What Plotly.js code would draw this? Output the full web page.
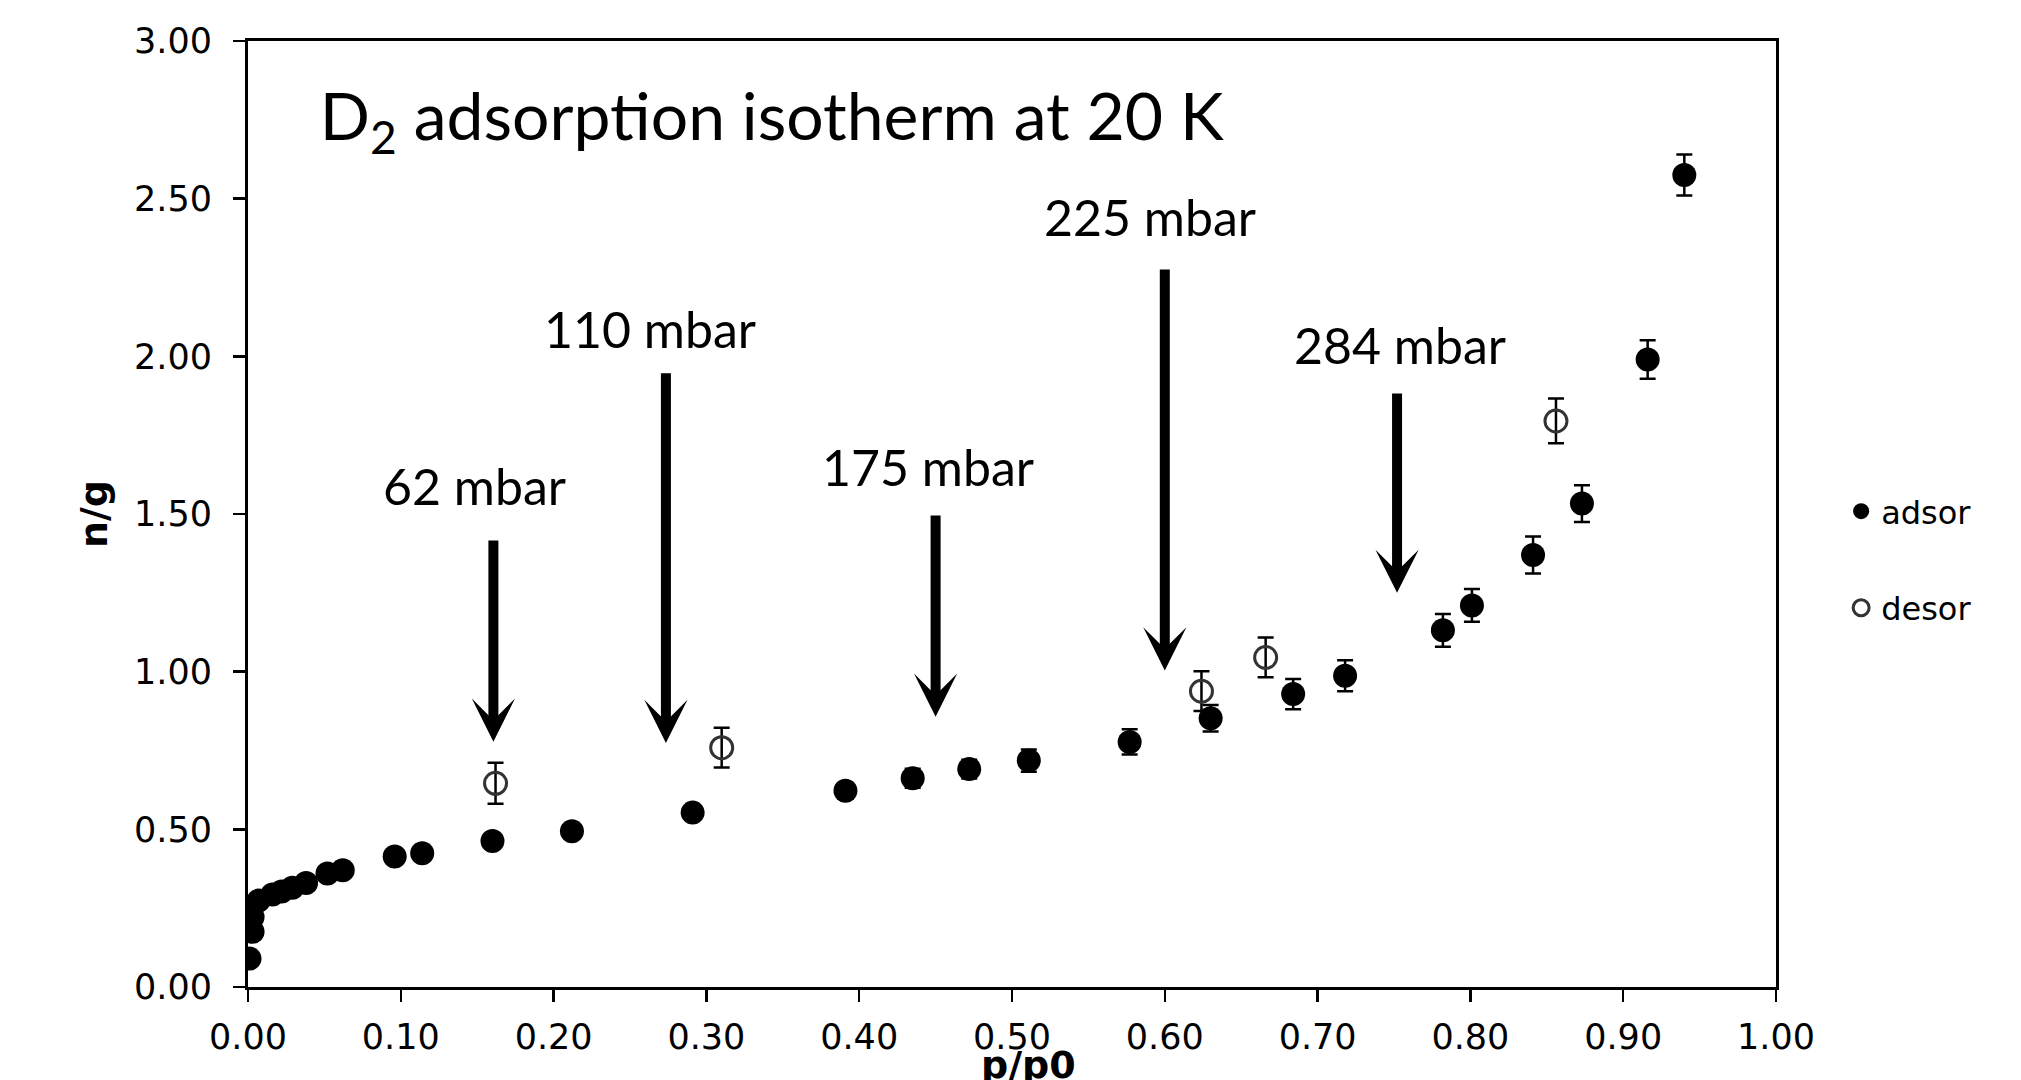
<!DOCTYPE html>
<html>
<head>
<meta charset="utf-8">
<script src="https://cdn.plot.ly/plotly-3.0.1.min.js"></script>
<style>html,body{margin:0;padding:0;background:#fff;}#chart{width:2021px;height:1080px;}</style>
</head>
<body>
<div id="chart"></div>
<script>
// adsorption branch
const adsorX = [0.001, 0.003, 0.003, 0.007, 0.016, 0.022, 0.029, 0.038, 0.052, 0.062, 0.096, 0.114, 0.160, 0.212, 0.291, 0.391, 0.435, 0.472, 0.511, 0.577, 0.630, 0.684, 0.718, 0.782, 0.801, 0.841, 0.873, 0.916, 0.940];
const adsorY = [0.090, 0.175, 0.222, 0.274, 0.293, 0.303, 0.315, 0.330, 0.360, 0.370, 0.414, 0.424, 0.463, 0.494, 0.553, 0.622, 0.662, 0.691, 0.718, 0.777, 0.852, 0.929, 0.987, 1.131, 1.210, 1.370, 1.533, 1.990, 2.575];
const adsorErr = [0.01, 0.01, 0.01, 0.01, 0.01, 0.01, 0.01, 0.01, 0.015, 0.015, 0.015, 0.015, 0.015, 0.02, 0.02, 0.025, 0.03, 0.03, 0.035, 0.04, 0.042, 0.048, 0.049, 0.052, 0.052, 0.059, 0.058, 0.061, 0.065];
// desorption points
const desorX = [0.162, 0.310, 0.624, 0.666, 0.856];
const desorY = [0.646, 0.759, 0.938, 1.045, 1.795];
const desorErr = [0.065, 0.063, 0.063, 0.063, 0.071];
// pressure labels and arrows
const labelText = ['62 mbar', '110 mbar', '175 mbar', '225 mbar', '284 mbar'];
const labelX = [0.148, 0.2634, 0.445, 0.590, 0.7538];
const labelY = [1.589, 2.088, 1.648, 2.443, 2.036];
const arrowX = [0.1606, 0.2735, 0.450, 0.600, 0.752];
const arrowTail = [1.421, 1.951, 1.500, 2.280, 1.887];
const arrowTip = [0.778, 0.774, 0.857, 1.004, 1.250];
const xTicks = [0, 0.1, 0.2, 0.3, 0.4, 0.5, 0.6, 0.7, 0.8, 0.9, 1.0];
const yTicks = [0, 0.5, 1.0, 1.5, 2.0, 2.5, 3.0];
const xTitle = 'p/p0';
const yTitle = 'n/g';

const labelFont = {family: 'Lato, "Noto Sans", sans-serif', size: 50, color: '#000'};
const axisTitleFont = {family: '"DejaVu Sans", Verdana, sans-serif', size: 38, color: '#000'};

const traces = [
  {
    type: 'scatter', mode: 'markers', name: 'adsor',
    x: adsorX, y: adsorY,
    error_y: {type: 'data', array: adsorErr, visible: true, color: '#000', thickness: 2.5, width: 8},
    marker: {symbol: 'circle', size: 24, color: '#000'},
    legendgroup: 'a'
  },
  {
    type: 'scatter', mode: 'markers', name: 'desor',
    x: desorX, y: desorY,
    error_y: {type: 'data', array: desorErr, visible: true, color: '#000', thickness: 2.5, width: 8},
    marker: {symbol: 'circle-open', size: 22, color: '#333', line: {width: 3, color: '#333'}},
    legendgroup: 'd'
  }
];

const annotations = [];
for (let i = 0; i < labelText.length; i++) {
  annotations.push({
    x: labelX[i], y: labelY[i], xref: 'x', yref: 'y',
    text: labelText[i], showarrow: false,
    xanchor: 'center', yanchor: 'middle', font: labelFont
  });
  annotations.push({
    x: arrowX[i], y: arrowTip[i], xref: 'x', yref: 'y',
    ax: arrowX[i], ay: arrowTail[i], axref: 'x', ayref: 'y',
    text: '', showarrow: true,
    arrowhead: 3, arrowsize: 0.72, arrowwidth: 10, arrowcolor: '#000', standoff: 0
  });
}
// x-axis title, placed like the reference (partly below the picture edge)
annotations.push({
  x: 0.5106, y: -0.057, xref: 'paper', yref: 'paper',
  text: '<b>' + xTitle + '</b>', showarrow: false,
  xanchor: 'center', yanchor: 'top', font: axisTitleFont
});

const axisCommon = {
  showgrid: false, zeroline: false,
  showline: true, linecolor: '#000', linewidth: 3, mirror: true,
  ticks: 'outside', ticklen: 12, tickwidth: 2.5, tickcolor: '#000',
  tickformat: '.2f',
  tickfont: {family: '"DejaVu Sans", Verdana, sans-serif', size: 35, color: '#000'}
};

const layout = {
  width: 2021, height: 1080,
  paper_bgcolor: '#fff', plot_bgcolor: '#fff',
  margin: {l: 248, r: 245, t: 41, b: 93, pad: 0},
  title: {
    text: 'D<sub>2</sub> adsorption isotherm at 20 K',
    font: {family: 'Lato, "Noto Sans", sans-serif', size: 66, color: '#000'},
    xref: 'paper', yref: 'paper', x: 0.047, xanchor: 'left', y: 0.92, yanchor: 'middle'
  },
  xaxis: Object.assign({}, axisCommon, {
    range: [0, 1], tickvals: xTicks, ticklabelstandoff: 5
  }),
  yaxis: Object.assign({}, axisCommon, {
    range: [0, 3], tickvals: yTicks, ticklabelstandoff: 14,
    title: {text: '<b>' + yTitle + '</b>', font: axisTitleFont, standoff: 15}
  }),
  legend: {
    xref: 'container', yref: 'container', x: 0.911, y: 0.552, xanchor: 'left', yanchor: 'top',
    font: {family: '"DejaVu Sans", Verdana, sans-serif', size: 32, color: '#000'},
    traceorder: 'grouped', tracegroupgap: 52, bgcolor: 'rgba(0,0,0,0)'
  },
  showlegend: true,
  annotations: annotations
};

Plotly.newPlot('chart', traces, layout, {displayModeBar: false, staticPlot: true});
</script>
</body>
</html>
